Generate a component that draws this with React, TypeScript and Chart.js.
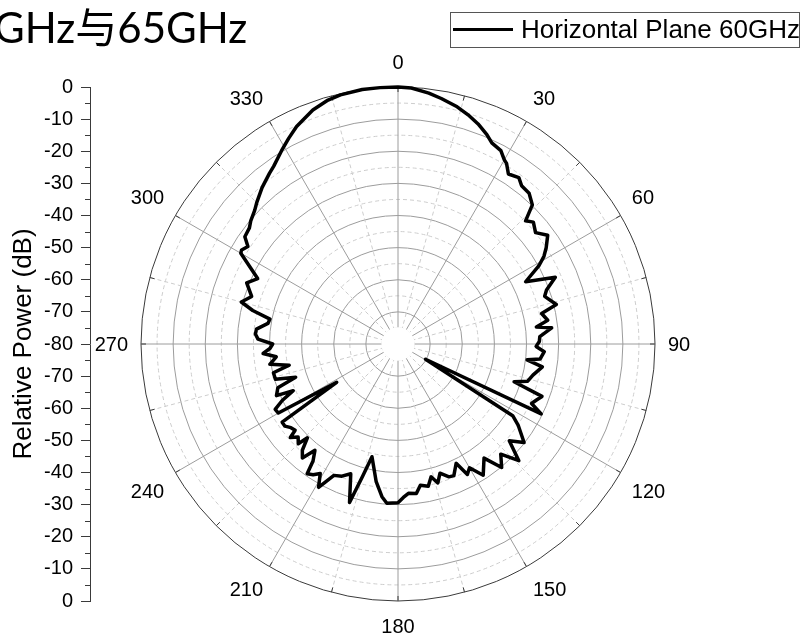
import { useEffect, useRef } from 'react';
import { Chart, registerables } from 'chart.js';

Chart.register(...registerables);

const FONT = "'Liberation Sans', Arial, Helvetica, sans-serif";

// Figure texts
const pageTitle = 'GHz与65GHz';
const seriesLabel = 'Horizontal Plane 60GHz';
const axisTitle = 'Relative Power (dB)';

// Angular axis tick labels (degrees)
const angleTickDegrees = [0, 30, 60, 90, 120, 150, 180, 210, 240, 270, 300, 330];
const angleTickLabels = ['0', '30', '60', '90', '120', '150', '180', '210', '240', '270', '300', '330'];

// Radial axis (dB): centre -80, rim 0
const radialMin = -80;
const radialMax = 0;
const radialStep = 5;

// Left mirrored dB axis: minor tick positions (axis units, 0 = centre)
const leftMinorTicks = [-75, -65, -55, -45, -35, -25, -15, -5, 5, 15, 25, 35, 45, 55, 65, 75];

// Measured pattern: azimuth (deg) and relative power (dB)
const angleDeg = [
  0, 3, 7, 10, 14, 17, 20, 23, 25, 28, 30, 31, 33, 36, 38, 41, 44, 46, 48, 51,
  54, 57, 59, 61, 64, 67, 70, 72, 76, 78, 81, 83, 84, 87, 89, 91, 93, 96, 97, 99,
  103, 106, 108, 110, 112, 114, 116, 119, 122, 124, 128, 131, 134, 137, 140, 143, 147, 150, 152, 154,
  157, 159, 162, 164, 166, 168, 171, 173, 176, 178, 180, 184, 186, 189, 193, 195, 197, 200, 203, 206,
  209, 211, 213, 215, 216, 218, 220, 222, 224, 225, 227, 229, 230, 232, 234, 236, 238, 240, 242, 244,
  246, 247, 250, 252, 254, 257, 259, 261, 264, 266, 268, 270, 272, 274, 276, 279, 281, 283, 285, 288,
  292, 295, 300, 301, 303, 305, 308, 310, 313, 315, 319, 323, 325, 329, 332, 335, 340, 344, 347, 352,
  356,
];
const powerDb = [
  0, -0.2, -1.3, -2.4, -3.9, -5.4, -7.1, -9.2, -10.9, -11.8, -13.8, -14.4, -16.9, -16.0, -17.5, -17.8, -19.8, -24.8, -23.3, -24.9,
  -22.4, -25.0, -27.0, -29.9, -35.8, -26.8, -30.8, -32.0, -29.2, -34.3, -32.8, -36.6, -31.9, -35.8, -36.0, -37.0, -34.4, -35.5, -39.5, -34.5,
  -36.9, -38.0, -42.0, -32.3, -33.5, -34.5, -30.4, -70.2, -37.9, -34.9, -30.2, -34.1, -27.7, -33.1, -29.8, -35.5, -31.3, -35.5, -34.0, -38.7,
  -35.5, -35.7, -37.7, -35.0, -37.4, -34.7, -35.5, -33.1, -33.4, -32.2, -30.6, -30.3, -32.2, -36.6, -44.0, -37.3, -28.4, -37.0, -35.3, -34.5,
  -29.0, -33.0, -31.5, -30.7, -35.0, -38.0, -33.7, -35.5, -39.4, -36.1, -37.5, -35.6, -38.2, -37.7, -36.5, -36.5, -57.5, -37.0, -36.7, -39.9,
  -44.3, -38.9, -40.2, -46.5, -40.3, -40.2, -45.5, -39.6, -41.9, -37.9, -40.1, -41.0, -36.4, -35.5, -35.7, -39.0, -39.4, -33.6, -29.5, -32.1,
  -29.2, -31.8, -23.5, -23.2, -24.3, -21.8, -21.3, -20.2, -19.0, -17.8, -15.5, -13.5, -12.5, -9.7, -7.5, -5.3, -2.5, -1.0, -0.4, 0,
  0,
];

const decorPlugin = {
  id: 'polarDecor',
  beforeDatasetsDraw(chart: any) {
    const r = chart.scales.r;
    const ctx = chart.ctx;
    ctx.save();
    ctx.fillStyle = '#ffffff';
    ctx.beginPath();
    ctx.arc(r.xCenter, r.yCenter, r.getDistanceFromCenterForValue(-75) + 0.6, 0, Math.PI * 2);
    ctx.fill();
    // short ticks on the rim every 15 degrees
    ctx.strokeStyle = '#3a3a3a';
    ctx.lineWidth = 1;
    for (let a = 0; a < 360; a += 15) {
      const p1 = r.getPointPosition(a, r.drawingArea);
      const p2 = r.getPointPosition(a, r.drawingArea - 5);
      ctx.beginPath();
      ctx.moveTo(p1.x, p1.y);
      ctx.lineTo(p2.x, p2.y);
      ctx.stroke();
    }
    // minor ticks on the left dB axis
    const y = chart.scales.y;
    leftMinorTicks.forEach((v) => {
      const py = Math.round(y.getPixelForValue(v)) + 0.5;
      ctx.beginPath();
      ctx.moveTo(y.right - 5, py);
      ctx.lineTo(y.right, py);
      ctx.stroke();
    });
    ctx.restore();
  },
  afterDraw(chart: any) {
    const r = chart.scales.r;
    const ctx = chart.ctx;
    ctx.save();
    ctx.font = `20px ${FONT}`;
    ctx.fillStyle = '#000';
    ctx.textAlign = 'center';
    ctx.textBaseline = 'middle';
    const hh = 12;
    const gap = 13;
    angleTickDegrees.forEach((deg, i) => {
      const text = angleTickLabels[i];
      const hw = ctx.measureText(text).width / 2;
      const th = (deg * Math.PI) / 180;
      const ux = Math.sin(th);
      const uy = -Math.cos(th);
      const sx = Math.abs(ux) < 1e-6 ? 0 : Math.sign(ux);
      const sy = Math.abs(uy) < 1e-6 ? 0 : Math.sign(uy);
      const p = r.getPointPosition(deg, r.drawingArea + gap);
      ctx.fillText(text, p.x + sx * hw, p.y + sy * hh + 1);
    });
    // legend box
    const ds = chart.data.datasets[0];
    ctx.strokeStyle = '#555';
    ctx.lineWidth = 1;
    ctx.strokeRect(450.5, 12.5, 349, 35);
    ctx.strokeStyle = ds.borderColor;
    ctx.lineWidth = 3;
    ctx.beginPath();
    ctx.moveTo(453, 29.5);
    ctx.lineTo(513, 29.5);
    ctx.stroke();
    ctx.font = `26px ${FONT}`;
    ctx.textAlign = 'left';
    ctx.textBaseline = 'alphabetic';
    ctx.fillStyle = '#000';
    ctx.fillText(ds.label, 521, 37.5);
    ctx.restore();
  },
};

export default function App() {
  const ref = useRef<HTMLCanvasElement>(null);
  useEffect(() => {
    if (!ref.current) return;
    const labels = Array.from({ length: 360 }, (_, i) => String(i));
    const values: (number | null)[] = labels.map(() => null);
    angleDeg.forEach((a, i) => {
      values[a] = powerDb[i];
    });
    const chart = new Chart(ref.current, {
      type: 'radar',
      data: {
        labels,
        datasets: [
          {
            label: seriesLabel,
            data: values,
            borderColor: '#000000',
            backgroundColor: 'rgba(0,0,0,0)',
            borderWidth: 3.5,
            borderJoinStyle: 'round',
            pointRadius: 0,
            pointHoverRadius: 0,
            fill: false,
            spanGaps: true,
            tension: 0,
          } as any,
        ],
      },
      options: {
        animation: false,
        responsive: false,
        maintainAspectRatio: false,
        layout: { padding: { top: 87, bottom: 36, left: 0, right: 96 } },
        plugins: {
          legend: { display: false },
          tooltip: { enabled: false },
          title: { display: false },
        },
        scales: {
          r: {
            min: radialMin,
            max: radialMax,
            startAngle: 0,
            ticks: { display: false, stepSize: radialStep },
            pointLabels: { display: false },
            grid: {
              circular: true,
              lineWidth: 1,
              color: (c: any) => {
                const v = c.tick ? c.tick.value : 0;
                if (v === 0) return '#3a3a3a';
                return v % 10 === 0 ? '#9c9c9c' : '#cdcdcd';
              },
            },
            border: {
              dash: (c: any) => (c && c.tick && c.tick.value % 10 !== 0 ? [4, 3] : []),
            },
            angleLines: {
              display: true,
              color: (c: any) => (c.index % 30 === 0 ? '#9c9c9c' : '#cdcdcd'),
              lineWidth: (c: any) => (c.index % 15 === 0 ? 1 : 0),
              borderDash: (c: any) => (c.index % 30 === 0 ? [] : [4, 3]),
            },
          } as any,
          y: {
            type: 'linear',
            position: 'left',
            min: -80,
            max: 80,
            afterFit: (s: any) => {
              s.width = 90;
            },
            ticks: {
              stepSize: 10,
              autoSkip: false,
              padding: 8,
              color: '#000',
              font: { size: 20, family: FONT },
              callback: (v: any) => String(Math.abs(Number(v)) - 80),
            },
            grid: {
              drawOnChartArea: false,
              drawTicks: true,
              tickLength: 9,
              tickColor: '#3a3a3a',
              tickWidth: 1,
            },
            border: { display: true, color: '#3a3a3a', width: 1 },
            title: {
              display: true,
              text: axisTitle,
              color: '#000',
              font: { size: 26, family: FONT },
              padding: { top: 8, bottom: 0 },
            },
          } as any,
        },
      },
      plugins: [decorPlugin],
    });
    return () => chart.destroy();
  }, []);

  return (
    <div style={{ position: 'fixed', left: 0, top: 0, width: 803, height: 637, background: '#fff', overflow: 'hidden' }}>
      <canvas ref={ref} width={803} height={637} style={{ position: 'absolute', left: 0, top: 0 }} />
      <div
        style={{
          position: 'absolute',
          left: -6,
          top: -3,
          fontFamily: "Lato, 'Noto Sans CJK SC', sans-serif",
          fontSize: 42,
          lineHeight: '60px',
          color: '#000',
          whiteSpace: 'nowrap',
        }}
      >
        {pageTitle}
      </div>
    </div>
  );
}
